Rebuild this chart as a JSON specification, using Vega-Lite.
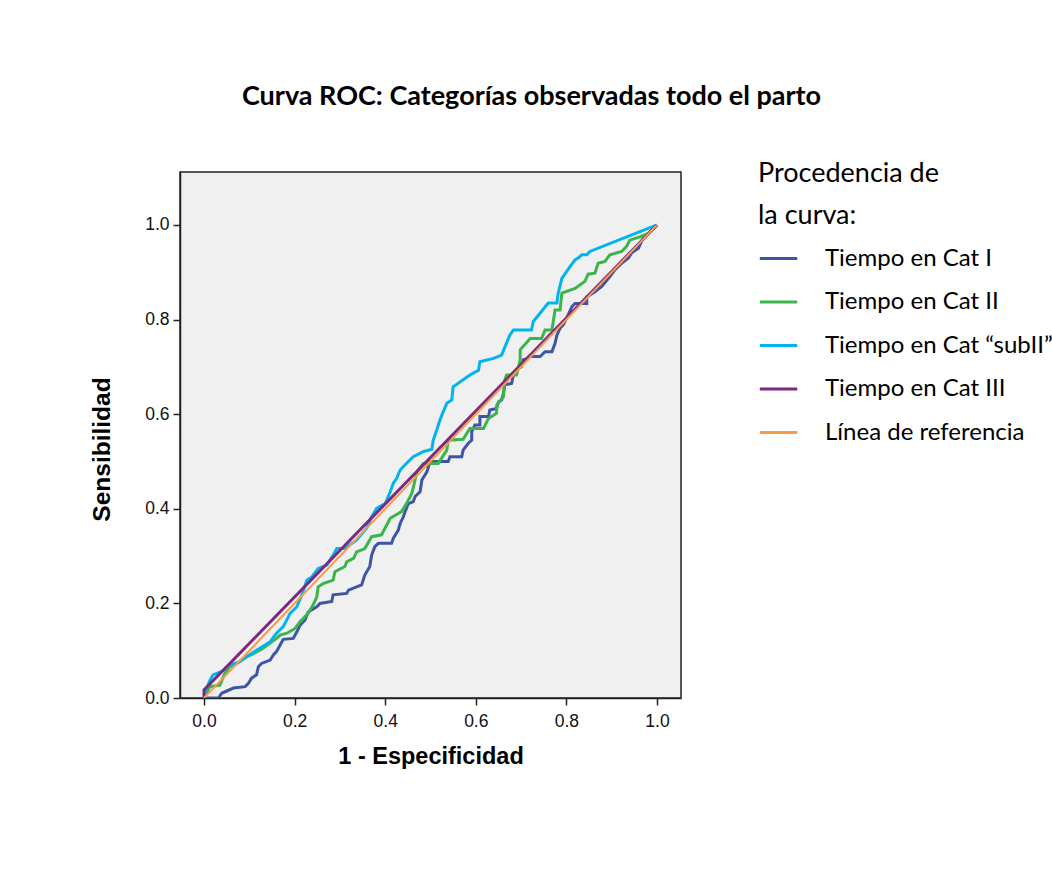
{
  "$schema": "https://vega.github.io/schema/vega-lite/v6.json",
  "autosize": {"type": "none"},
  "padding": {"left": 180, "top": 172, "right": 371, "bottom": 193},
  "width": 501,
  "height": 526,
  "background": "white",
  "title": {
    "text": "Curva ROC: Categorías observadas todo el parto",
    "font": "Lato",
    "fontSize": 27,
    "fontWeight": "bold",
    "color": "#000000",
    "anchor": "middle",
    "dx": 101,
    "offset": 50
  },
  "config": {
    "view": {"fill": "#f0f0f0", "stroke": "#222222", "strokeWidth": 1.5},
    "axis": {
      "grid": false,
      "domainColor": "#222222",
      "domainWidth": 1.5,
      "tickColor": "#222222",
      "tickWidth": 1.5,
      "tickSize": 7,
      "labelFont": "Liberation Sans",
      "labelFontSize": 17.5,
      "labelColor": "#111111",
      "titleFont": "Liberation Sans",
      "titleFontWeight": "bold",
      "titleColor": "#000000"
    }
  },
  "datasets": {
    "curves": [
      {"s": "Tiempo en Cat I", "i": 0, "x": 0, "y": 0},
      {"s": "Tiempo en Cat I", "i": 1, "x": 0.032, "y": 0},
      {"s": "Tiempo en Cat I", "i": 2, "x": 0.039, "y": 0.010},
      {"s": "Tiempo en Cat I", "i": 3, "x": 0.065, "y": 0.021},
      {"s": "Tiempo en Cat I", "i": 4, "x": 0.091, "y": 0.024},
      {"s": "Tiempo en Cat I", "i": 5, "x": 0.098, "y": 0.031},
      {"s": "Tiempo en Cat I", "i": 6, "x": 0.105, "y": 0.042},
      {"s": "Tiempo en Cat I", "i": 7, "x": 0.116, "y": 0.049},
      {"s": "Tiempo en Cat I", "i": 8, "x": 0.120, "y": 0.066},
      {"s": "Tiempo en Cat I", "i": 9, "x": 0.127, "y": 0.073},
      {"s": "Tiempo en Cat I", "i": 10, "x": 0.146, "y": 0.080},
      {"s": "Tiempo en Cat I", "i": 11, "x": 0.153, "y": 0.091},
      {"s": "Tiempo en Cat I", "i": 12, "x": 0.160, "y": 0.098},
      {"s": "Tiempo en Cat I", "i": 13, "x": 0.168, "y": 0.112},
      {"s": "Tiempo en Cat I", "i": 14, "x": 0.175, "y": 0.124},
      {"s": "Tiempo en Cat I", "i": 15, "x": 0.197, "y": 0.126},
      {"s": "Tiempo en Cat I", "i": 16, "x": 0.205, "y": 0.140},
      {"s": "Tiempo en Cat I", "i": 17, "x": 0.212, "y": 0.154},
      {"s": "Tiempo en Cat I", "i": 18, "x": 0.223, "y": 0.165},
      {"s": "Tiempo en Cat I", "i": 19, "x": 0.230, "y": 0.182},
      {"s": "Tiempo en Cat I", "i": 20, "x": 0.249, "y": 0.193},
      {"s": "Tiempo en Cat I", "i": 21, "x": 0.256, "y": 0.200},
      {"s": "Tiempo en Cat I", "i": 22, "x": 0.282, "y": 0.204},
      {"s": "Tiempo en Cat I", "i": 23, "x": 0.285, "y": 0.218},
      {"s": "Tiempo en Cat I", "i": 24, "x": 0.315, "y": 0.221},
      {"s": "Tiempo en Cat I", "i": 25, "x": 0.319, "y": 0.228},
      {"s": "Tiempo en Cat I", "i": 26, "x": 0.337, "y": 0.235},
      {"s": "Tiempo en Cat I", "i": 27, "x": 0.348, "y": 0.239},
      {"s": "Tiempo en Cat I", "i": 28, "x": 0.355, "y": 0.260},
      {"s": "Tiempo en Cat I", "i": 29, "x": 0.366, "y": 0.278},
      {"s": "Tiempo en Cat I", "i": 30, "x": 0.370, "y": 0.302},
      {"s": "Tiempo en Cat I", "i": 31, "x": 0.377, "y": 0.320},
      {"s": "Tiempo en Cat I", "i": 32, "x": 0.385, "y": 0.327},
      {"s": "Tiempo en Cat I", "i": 33, "x": 0.414, "y": 0.327},
      {"s": "Tiempo en Cat I", "i": 34, "x": 0.418, "y": 0.338},
      {"s": "Tiempo en Cat I", "i": 35, "x": 0.429, "y": 0.355},
      {"s": "Tiempo en Cat I", "i": 36, "x": 0.433, "y": 0.369},
      {"s": "Tiempo en Cat I", "i": 37, "x": 0.440, "y": 0.383},
      {"s": "Tiempo en Cat I", "i": 38, "x": 0.444, "y": 0.394},
      {"s": "Tiempo en Cat I", "i": 39, "x": 0.451, "y": 0.411},
      {"s": "Tiempo en Cat I", "i": 40, "x": 0.462, "y": 0.415},
      {"s": "Tiempo en Cat I", "i": 41, "x": 0.466, "y": 0.426},
      {"s": "Tiempo en Cat I", "i": 42, "x": 0.477, "y": 0.436},
      {"s": "Tiempo en Cat I", "i": 43, "x": 0.481, "y": 0.461},
      {"s": "Tiempo en Cat I", "i": 44, "x": 0.492, "y": 0.478},
      {"s": "Tiempo en Cat I", "i": 45, "x": 0.499, "y": 0.500},
      {"s": "Tiempo en Cat I", "i": 46, "x": 0.539, "y": 0.500},
      {"s": "Tiempo en Cat I", "i": 47, "x": 0.543, "y": 0.510},
      {"s": "Tiempo en Cat I", "i": 48, "x": 0.569, "y": 0.510},
      {"s": "Tiempo en Cat I", "i": 49, "x": 0.572, "y": 0.524},
      {"s": "Tiempo en Cat I", "i": 50, "x": 0.583, "y": 0.538},
      {"s": "Tiempo en Cat I", "i": 51, "x": 0.591, "y": 0.545},
      {"s": "Tiempo en Cat I", "i": 52, "x": 0.591, "y": 0.563},
      {"s": "Tiempo en Cat I", "i": 53, "x": 0.598, "y": 0.577},
      {"s": "Tiempo en Cat I", "i": 54, "x": 0.609, "y": 0.577},
      {"s": "Tiempo en Cat I", "i": 55, "x": 0.609, "y": 0.595},
      {"s": "Tiempo en Cat I", "i": 56, "x": 0.628, "y": 0.595},
      {"s": "Tiempo en Cat I", "i": 57, "x": 0.631, "y": 0.609},
      {"s": "Tiempo en Cat I", "i": 58, "x": 0.646, "y": 0.612},
      {"s": "Tiempo en Cat I", "i": 59, "x": 0.650, "y": 0.626},
      {"s": "Tiempo en Cat I", "i": 60, "x": 0.657, "y": 0.630},
      {"s": "Tiempo en Cat I", "i": 61, "x": 0.661, "y": 0.644},
      {"s": "Tiempo en Cat I", "i": 62, "x": 0.664, "y": 0.662},
      {"s": "Tiempo en Cat I", "i": 63, "x": 0.679, "y": 0.665},
      {"s": "Tiempo en Cat I", "i": 64, "x": 0.683, "y": 0.683},
      {"s": "Tiempo en Cat I", "i": 65, "x": 0.690, "y": 0.695},
      {"s": "Tiempo en Cat I", "i": 66, "x": 0.700, "y": 0.700},
      {"s": "Tiempo en Cat I", "i": 67, "x": 0.705, "y": 0.715},
      {"s": "Tiempo en Cat I", "i": 68, "x": 0.712, "y": 0.717},
      {"s": "Tiempo en Cat I", "i": 69, "x": 0.720, "y": 0.722},
      {"s": "Tiempo en Cat I", "i": 70, "x": 0.742, "y": 0.722},
      {"s": "Tiempo en Cat I", "i": 71, "x": 0.753, "y": 0.732},
      {"s": "Tiempo en Cat I", "i": 72, "x": 0.768, "y": 0.732},
      {"s": "Tiempo en Cat I", "i": 73, "x": 0.775, "y": 0.750},
      {"s": "Tiempo en Cat I", "i": 74, "x": 0.779, "y": 0.767},
      {"s": "Tiempo en Cat I", "i": 75, "x": 0.786, "y": 0.782},
      {"s": "Tiempo en Cat I", "i": 76, "x": 0.793, "y": 0.789},
      {"s": "Tiempo en Cat I", "i": 77, "x": 0.804, "y": 0.810},
      {"s": "Tiempo en Cat I", "i": 78, "x": 0.812, "y": 0.827},
      {"s": "Tiempo en Cat I", "i": 79, "x": 0.819, "y": 0.834},
      {"s": "Tiempo en Cat I", "i": 80, "x": 0.845, "y": 0.834},
      {"s": "Tiempo en Cat I", "i": 81, "x": 0.845, "y": 0.848},
      {"s": "Tiempo en Cat I", "i": 82, "x": 0.863, "y": 0.859},
      {"s": "Tiempo en Cat I", "i": 83, "x": 0.878, "y": 0.870},
      {"s": "Tiempo en Cat I", "i": 84, "x": 0.896, "y": 0.891},
      {"s": "Tiempo en Cat I", "i": 85, "x": 0.907, "y": 0.905},
      {"s": "Tiempo en Cat I", "i": 86, "x": 0.922, "y": 0.919},
      {"s": "Tiempo en Cat I", "i": 87, "x": 0.937, "y": 0.930},
      {"s": "Tiempo en Cat I", "i": 88, "x": 0.944, "y": 0.941},
      {"s": "Tiempo en Cat I", "i": 89, "x": 0.959, "y": 0.951},
      {"s": "Tiempo en Cat I", "i": 90, "x": 0.967, "y": 0.968},
      {"s": "Tiempo en Cat I", "i": 91, "x": 0.978, "y": 0.979},
      {"s": "Tiempo en Cat I", "i": 92, "x": 1, "y": 1},

      {"s": "Tiempo en Cat II", "i": 0, "x": 0, "y": 0},
      {"s": "Tiempo en Cat II", "i": 1, "x": 0.013, "y": 0.024},
      {"s": "Tiempo en Cat II", "i": 2, "x": 0.035, "y": 0.027},
      {"s": "Tiempo en Cat II", "i": 3, "x": 0.045, "y": 0.050},
      {"s": "Tiempo en Cat II", "i": 4, "x": 0.057, "y": 0.066},
      {"s": "Tiempo en Cat II", "i": 5, "x": 0.072, "y": 0.073},
      {"s": "Tiempo en Cat II", "i": 6, "x": 0.094, "y": 0.087},
      {"s": "Tiempo en Cat II", "i": 7, "x": 0.109, "y": 0.094},
      {"s": "Tiempo en Cat II", "i": 8, "x": 0.127, "y": 0.103},
      {"s": "Tiempo en Cat II", "i": 9, "x": 0.146, "y": 0.116},
      {"s": "Tiempo en Cat II", "i": 10, "x": 0.160, "y": 0.126},
      {"s": "Tiempo en Cat II", "i": 11, "x": 0.168, "y": 0.133},
      {"s": "Tiempo en Cat II", "i": 12, "x": 0.183, "y": 0.137},
      {"s": "Tiempo en Cat II", "i": 13, "x": 0.201, "y": 0.147},
      {"s": "Tiempo en Cat II", "i": 14, "x": 0.212, "y": 0.161},
      {"s": "Tiempo en Cat II", "i": 15, "x": 0.230, "y": 0.179},
      {"s": "Tiempo en Cat II", "i": 16, "x": 0.241, "y": 0.197},
      {"s": "Tiempo en Cat II", "i": 17, "x": 0.249, "y": 0.214},
      {"s": "Tiempo en Cat II", "i": 18, "x": 0.252, "y": 0.235},
      {"s": "Tiempo en Cat II", "i": 19, "x": 0.263, "y": 0.242},
      {"s": "Tiempo en Cat II", "i": 20, "x": 0.285, "y": 0.249},
      {"s": "Tiempo en Cat II", "i": 21, "x": 0.289, "y": 0.267},
      {"s": "Tiempo en Cat II", "i": 22, "x": 0.311, "y": 0.278},
      {"s": "Tiempo en Cat II", "i": 23, "x": 0.315, "y": 0.288},
      {"s": "Tiempo en Cat II", "i": 24, "x": 0.330, "y": 0.295},
      {"s": "Tiempo en Cat II", "i": 25, "x": 0.337, "y": 0.309},
      {"s": "Tiempo en Cat II", "i": 26, "x": 0.355, "y": 0.316},
      {"s": "Tiempo en Cat II", "i": 27, "x": 0.370, "y": 0.341},
      {"s": "Tiempo en Cat II", "i": 28, "x": 0.392, "y": 0.345},
      {"s": "Tiempo en Cat II", "i": 29, "x": 0.411, "y": 0.380},
      {"s": "Tiempo en Cat II", "i": 30, "x": 0.429, "y": 0.390},
      {"s": "Tiempo en Cat II", "i": 31, "x": 0.436, "y": 0.394},
      {"s": "Tiempo en Cat II", "i": 32, "x": 0.447, "y": 0.411},
      {"s": "Tiempo en Cat II", "i": 33, "x": 0.459, "y": 0.433},
      {"s": "Tiempo en Cat II", "i": 34, "x": 0.466, "y": 0.461},
      {"s": "Tiempo en Cat II", "i": 35, "x": 0.470, "y": 0.478},
      {"s": "Tiempo en Cat II", "i": 36, "x": 0.484, "y": 0.496},
      {"s": "Tiempo en Cat II", "i": 37, "x": 0.517, "y": 0.496},
      {"s": "Tiempo en Cat II", "i": 38, "x": 0.536, "y": 0.524},
      {"s": "Tiempo en Cat II", "i": 39, "x": 0.539, "y": 0.545},
      {"s": "Tiempo en Cat II", "i": 40, "x": 0.572, "y": 0.547},
      {"s": "Tiempo en Cat II", "i": 41, "x": 0.587, "y": 0.570},
      {"s": "Tiempo en Cat II", "i": 42, "x": 0.617, "y": 0.570},
      {"s": "Tiempo en Cat II", "i": 43, "x": 0.628, "y": 0.591},
      {"s": "Tiempo en Cat II", "i": 44, "x": 0.646, "y": 0.602},
      {"s": "Tiempo en Cat II", "i": 45, "x": 0.646, "y": 0.619},
      {"s": "Tiempo en Cat II", "i": 46, "x": 0.661, "y": 0.637},
      {"s": "Tiempo en Cat II", "i": 47, "x": 0.664, "y": 0.672},
      {"s": "Tiempo en Cat II", "i": 48, "x": 0.668, "y": 0.683},
      {"s": "Tiempo en Cat II", "i": 49, "x": 0.690, "y": 0.683},
      {"s": "Tiempo en Cat II", "i": 50, "x": 0.698, "y": 0.715},
      {"s": "Tiempo en Cat II", "i": 51, "x": 0.698, "y": 0.736},
      {"s": "Tiempo en Cat II", "i": 52, "x": 0.720, "y": 0.760},
      {"s": "Tiempo en Cat II", "i": 53, "x": 0.745, "y": 0.760},
      {"s": "Tiempo en Cat II", "i": 54, "x": 0.753, "y": 0.778},
      {"s": "Tiempo en Cat II", "i": 55, "x": 0.768, "y": 0.778},
      {"s": "Tiempo en Cat II", "i": 56, "x": 0.775, "y": 0.820},
      {"s": "Tiempo en Cat II", "i": 57, "x": 0.786, "y": 0.820},
      {"s": "Tiempo en Cat II", "i": 58, "x": 0.790, "y": 0.856},
      {"s": "Tiempo en Cat II", "i": 59, "x": 0.819, "y": 0.866},
      {"s": "Tiempo en Cat II", "i": 60, "x": 0.841, "y": 0.881},
      {"s": "Tiempo en Cat II", "i": 61, "x": 0.848, "y": 0.896},
      {"s": "Tiempo en Cat II", "i": 62, "x": 0.863, "y": 0.898},
      {"s": "Tiempo en Cat II", "i": 63, "x": 0.870, "y": 0.919},
      {"s": "Tiempo en Cat II", "i": 64, "x": 0.885, "y": 0.923},
      {"s": "Tiempo en Cat II", "i": 65, "x": 0.896, "y": 0.937},
      {"s": "Tiempo en Cat II", "i": 66, "x": 0.922, "y": 0.944},
      {"s": "Tiempo en Cat II", "i": 67, "x": 0.933, "y": 0.955},
      {"s": "Tiempo en Cat II", "i": 68, "x": 0.940, "y": 0.968},
      {"s": "Tiempo en Cat II", "i": 69, "x": 0.962, "y": 0.975},
      {"s": "Tiempo en Cat II", "i": 70, "x": 0.981, "y": 0.982},
      {"s": "Tiempo en Cat II", "i": 71, "x": 1, "y": 1},

      {"s": "Tiempo en Cat “subII”", "i": 0, "x": 0, "y": 0},
      {"s": "Tiempo en Cat “subII”", "i": 1, "x": 0.006, "y": 0.020},
      {"s": "Tiempo en Cat “subII”", "i": 2, "x": 0.012, "y": 0.035},
      {"s": "Tiempo en Cat “subII”", "i": 3, "x": 0.020, "y": 0.049},
      {"s": "Tiempo en Cat “subII”", "i": 4, "x": 0.043, "y": 0.058},
      {"s": "Tiempo en Cat “subII”", "i": 5, "x": 0.057, "y": 0.070},
      {"s": "Tiempo en Cat “subII”", "i": 6, "x": 0.076, "y": 0.075},
      {"s": "Tiempo en Cat “subII”", "i": 7, "x": 0.094, "y": 0.087},
      {"s": "Tiempo en Cat “subII”", "i": 8, "x": 0.116, "y": 0.101},
      {"s": "Tiempo en Cat “subII”", "i": 9, "x": 0.146, "y": 0.119},
      {"s": "Tiempo en Cat “subII”", "i": 10, "x": 0.160, "y": 0.137},
      {"s": "Tiempo en Cat “subII”", "i": 11, "x": 0.175, "y": 0.151},
      {"s": "Tiempo en Cat “subII”", "i": 12, "x": 0.190, "y": 0.179},
      {"s": "Tiempo en Cat “subII”", "i": 13, "x": 0.205, "y": 0.193},
      {"s": "Tiempo en Cat “subII”", "i": 14, "x": 0.216, "y": 0.218},
      {"s": "Tiempo en Cat “subII”", "i": 15, "x": 0.227, "y": 0.249},
      {"s": "Tiempo en Cat “subII”", "i": 16, "x": 0.238, "y": 0.256},
      {"s": "Tiempo en Cat “subII”", "i": 17, "x": 0.252, "y": 0.274},
      {"s": "Tiempo en Cat “subII”", "i": 18, "x": 0.271, "y": 0.281},
      {"s": "Tiempo en Cat “subII”", "i": 19, "x": 0.285, "y": 0.302},
      {"s": "Tiempo en Cat “subII”", "i": 20, "x": 0.293, "y": 0.316},
      {"s": "Tiempo en Cat “subII”", "i": 21, "x": 0.311, "y": 0.316},
      {"s": "Tiempo en Cat “subII”", "i": 22, "x": 0.337, "y": 0.334},
      {"s": "Tiempo en Cat “subII”", "i": 23, "x": 0.359, "y": 0.359},
      {"s": "Tiempo en Cat “subII”", "i": 24, "x": 0.370, "y": 0.383},
      {"s": "Tiempo en Cat “subII”", "i": 25, "x": 0.381, "y": 0.401},
      {"s": "Tiempo en Cat “subII”", "i": 26, "x": 0.400, "y": 0.411},
      {"s": "Tiempo en Cat “subII”", "i": 27, "x": 0.411, "y": 0.436},
      {"s": "Tiempo en Cat “subII”", "i": 28, "x": 0.418, "y": 0.454},
      {"s": "Tiempo en Cat “subII”", "i": 29, "x": 0.425, "y": 0.464},
      {"s": "Tiempo en Cat “subII”", "i": 30, "x": 0.433, "y": 0.482},
      {"s": "Tiempo en Cat “subII”", "i": 31, "x": 0.444, "y": 0.493},
      {"s": "Tiempo en Cat “subII”", "i": 32, "x": 0.462, "y": 0.510},
      {"s": "Tiempo en Cat “subII”", "i": 33, "x": 0.484, "y": 0.521},
      {"s": "Tiempo en Cat “subII”", "i": 34, "x": 0.503, "y": 0.526},
      {"s": "Tiempo en Cat “subII”", "i": 35, "x": 0.506, "y": 0.545},
      {"s": "Tiempo en Cat “subII”", "i": 36, "x": 0.514, "y": 0.567},
      {"s": "Tiempo en Cat “subII”", "i": 37, "x": 0.521, "y": 0.588},
      {"s": "Tiempo en Cat “subII”", "i": 38, "x": 0.528, "y": 0.605},
      {"s": "Tiempo en Cat “subII”", "i": 39, "x": 0.536, "y": 0.623},
      {"s": "Tiempo en Cat “subII”", "i": 40, "x": 0.547, "y": 0.630},
      {"s": "Tiempo en Cat “subII”", "i": 41, "x": 0.550, "y": 0.658},
      {"s": "Tiempo en Cat “subII”", "i": 42, "x": 0.587, "y": 0.683},
      {"s": "Tiempo en Cat “subII”", "i": 43, "x": 0.606, "y": 0.693},
      {"s": "Tiempo en Cat “subII”", "i": 44, "x": 0.609, "y": 0.711},
      {"s": "Tiempo en Cat “subII”", "i": 45, "x": 0.639, "y": 0.718},
      {"s": "Tiempo en Cat “subII”", "i": 46, "x": 0.657, "y": 0.725},
      {"s": "Tiempo en Cat “subII”", "i": 47, "x": 0.675, "y": 0.767},
      {"s": "Tiempo en Cat “subII”", "i": 48, "x": 0.683, "y": 0.778},
      {"s": "Tiempo en Cat “subII”", "i": 49, "x": 0.723, "y": 0.778},
      {"s": "Tiempo en Cat “subII”", "i": 50, "x": 0.727, "y": 0.796},
      {"s": "Tiempo en Cat “subII”", "i": 51, "x": 0.760, "y": 0.835},
      {"s": "Tiempo en Cat “subII”", "i": 52, "x": 0.779, "y": 0.835},
      {"s": "Tiempo en Cat “subII”", "i": 53, "x": 0.782, "y": 0.856},
      {"s": "Tiempo en Cat “subII”", "i": 54, "x": 0.790, "y": 0.887},
      {"s": "Tiempo en Cat “subII”", "i": 55, "x": 0.808, "y": 0.912},
      {"s": "Tiempo en Cat “subII”", "i": 56, "x": 0.819, "y": 0.926},
      {"s": "Tiempo en Cat “subII”", "i": 57, "x": 0.826, "y": 0.930},
      {"s": "Tiempo en Cat “subII”", "i": 58, "x": 0.834, "y": 0.937},
      {"s": "Tiempo en Cat “subII”", "i": 59, "x": 0.845, "y": 0.937},
      {"s": "Tiempo en Cat “subII”", "i": 60, "x": 0.852, "y": 0.944},
      {"s": "Tiempo en Cat “subII”", "i": 61, "x": 1, "y": 1},

      {"s": "Tiempo en Cat III", "i": 0, "x": 0, "y": 0},
      {"s": "Tiempo en Cat III", "i": 1, "x": 0, "y": 0.017},
      {"s": "Tiempo en Cat III", "i": 2, "x": 1, "y": 1}
    ],
    "reference": [
      {"s": "Línea de referencia", "i": 0, "x": 0, "y": 0},
      {"s": "Línea de referencia", "i": 1, "x": 1, "y": 1}
    ]
  },
  "encoding": {
    "x": {
      "field": "x", "type": "quantitative",
      "scale": {"domain": [-0.053, 1.053], "nice": false, "zero": false},
      "axis": {"title": "1 - Especificidad", "values": [0, 0.2, 0.4, 0.6, 0.8, 1.0], "format": ".1f", "labelPadding": 7, "titlePadding": 15, "titleFontSize": 23.5}
    },
    "y": {
      "field": "y", "type": "quantitative",
      "scale": {"domain": [0, 1.112], "nice": false, "zero": false},
      "axis": {"title": "Sensibilidad", "values": [0, 0.2, 0.4, 0.6, 0.8, 1.0], "format": ".1f", "labelPadding": 4, "titlePadding": 30, "titleFontSize": 24.5, "titleY": 277}
    },
    "order": {"field": "i", "type": "quantitative"},
    "color": {
      "field": "s", "type": "nominal",
      "scale": {
        "domain": ["Tiempo en Cat I", "Tiempo en Cat II", "Tiempo en Cat “subII”", "Tiempo en Cat III", "Línea de referencia"],
        "range": ["#3d55a6", "#3ab54a", "#00b4f0", "#7b2a7f", "#f89b4a"]
      },
      "legend": {
        "title": ["Procedencia de", "la curva:"],
        "orient": "none",
        "legendX": 578,
        "legendY": -11,
        "titleFont": "Lato",
        "titleFontSize": 27,
        "titleFontWeight": "normal",
        "titleColor": "#000000",
        "titleLineHeight": 42,
        "titlePadding": 8,
        "titleAnchor": "start",
        "titleLimit": 500,
        "labelFont": "Lato",
        "labelFontSize": 24,
        "labelColor": "#000000",
        "labelOffset": 26,
        "labelLimit": 400,
        "symbolType": "stroke",
        "symbolSize": 1400,
        "symbolStrokeWidth": 3,
        "rowPadding": 10.5,
        "padding": 0
      }
    }
  },
  "layer": [
    {
      "data": {"name": "curves"},
      "mark": {"type": "line", "strokeWidth": 3, "clip": true}
    },
    {
      "data": {"name": "reference"},
      "mark": {"type": "line", "strokeWidth": 2, "clip": true}
    }
  ]
}
